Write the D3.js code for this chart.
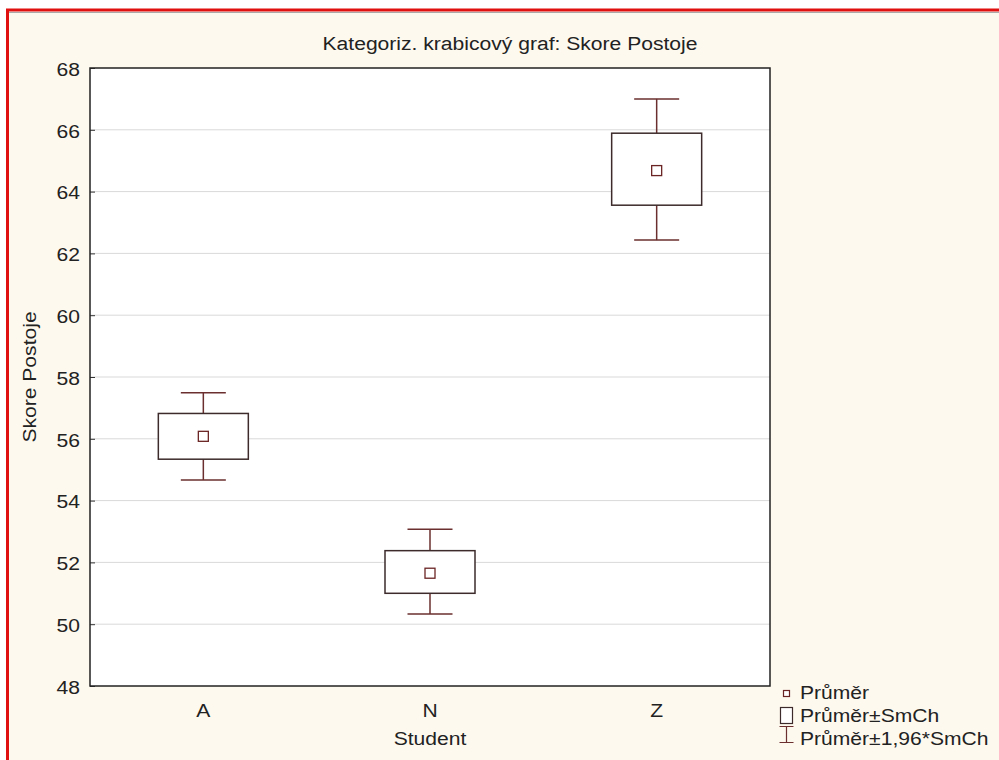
<!DOCTYPE html>
<html>
<head>
<meta charset="utf-8">
<script src="https://cdn.jsdelivr.net/npm/d3@7"></script>
<style>
  body { margin: 0; background: #ffffff; }
  text { font-family: "Liberation Sans", Arial, sans-serif; fill: #222; }
</style>
</head>
<body>
<div class="chart"></div>
<script>
// data
var categories = ["A", "N", "Z"];
var means      = [56.08, 51.65, 64.68];
var boxLow     = [55.34, 51.0, 63.56];
var boxHigh    = [56.82, 52.38, 65.89];
var whiskLow   = [54.67, 50.33, 62.43];
var whiskHigh  = [57.49, 53.07, 67.0];
var yTicks     = [48, 50, 52, 54, 56, 58, 60, 62, 64, 66, 68];
var legendLabels = ["Průměr", "Průměr±SmCh", "Průměr±1,96*SmCh"];

var svgWidth = 999, svgHeight = 760;
var margin = { top: 68, right: 229, bottom: 74, left: 90 };
var width = svgWidth - margin.left - margin.right;
var height = svgHeight - margin.top - margin.bottom;
var fontSize = "19px", stretchX = 1.11;

// the reference text is a bit wider than Arial, so widen it a little
function stretch(sel) {
  sel.each(function() {
    var t = d3.select(this);
    var tx = +t.attr("x") || 0, ty = +t.attr("y") || 0;
    var tr = t.attr("transform") || "";
    t.attr("x", 0).attr("y", 0)
      .attr("transform", `${tr} translate(${tx},${ty}) scale(${stretchX},1)`);
  });
}

var svg = d3.select(".chart")
  .append("svg")
  .attr("width", svgWidth)
  .attr("height", svgHeight);

// window frame
svg.append("rect").attr("x", 6).attr("y", 9).attr("width", svgWidth).attr("height", svgHeight)
  .attr("fill", "#fdf9ef");
svg.append("line").attr("x1", 6).attr("x2", svgWidth).attr("y1", 12.5).attr("y2", 12.5)
  .attr("stroke", "#aaa").attr("stroke-width", 1);
svg.append("line").attr("x1", 6).attr("x2", svgWidth).attr("y1", 10).attr("y2", 10)
  .attr("stroke", "#e01010").attr("stroke-width", 3);
svg.append("line").attr("x1", 7.5).attr("x2", 7.5).attr("y1", 9).attr("y2", svgHeight)
  .attr("stroke", "#e01010").attr("stroke-width", 3);

var chartGroup = svg.append("g")
  .attr("transform", `translate(${margin.left}, ${margin.top})`);

var x = d3.scaleBand().domain(categories).range([0, width]).padding(0);
var y = d3.scaleLinear().domain([48, 68]).range([height, 0]);

chartGroup.append("rect")
  .attr("width", width).attr("height", height)
  .attr("fill", "#fff");

// grid lines
chartGroup.selectAll(".grid")
  .data(yTicks.slice(1, -1))
  .enter()
  .append("line")
  .attr("x1", 0).attr("x2", width)
  .attr("y1", d => y(d)).attr("y2", d => y(d))
  .attr("stroke", "#d9d9d9").attr("stroke-width", 1);

// y axis
var leftAxis = d3.axisLeft(y).tickValues(yTicks).tickSize(-5).tickPadding(10);
var yAxis = chartGroup.append("g").call(leftAxis);
yAxis.select(".domain").remove();
yAxis.selectAll("line").attr("stroke", "#333");
yAxis.selectAll("text").attr("font-size", fontSize).attr("fill", "#222")
  .attr("dy", "0.38em")
  .style("font-family", "Liberation Sans, Arial, sans-serif")
  .call(stretch);

// x axis
var bottomAxis = d3.axisBottom(x).tickSize(0).tickPadding(31);
var xAxis = chartGroup.append("g").attr("transform", `translate(0, ${height})`).call(bottomAxis);
xAxis.select(".domain").remove();
xAxis.selectAll("text").attr("font-size", fontSize).attr("fill", "#222")
  .attr("dy", "0")
  .style("font-family", "Liberation Sans, Arial, sans-serif")
  .call(stretch);

var idx = d3.range(categories.length);
var boxW = 90, capW = 45;

// whiskers
var whisk = chartGroup.selectAll(".whisk").data(idx).enter().append("g")
  .attr("stroke", "#6b2f2f").attr("stroke-width", 1.5);
whisk.append("line")
  .attr("x1", i => x(categories[i]) + x.bandwidth() / 2)
  .attr("x2", i => x(categories[i]) + x.bandwidth() / 2)
  .attr("y1", i => y(whiskLow[i])).attr("y2", i => y(whiskHigh[i]));
whisk.append("line")
  .attr("x1", i => x(categories[i]) + x.bandwidth() / 2 - capW / 2)
  .attr("x2", i => x(categories[i]) + x.bandwidth() / 2 + capW / 2)
  .attr("y1", i => y(whiskHigh[i])).attr("y2", i => y(whiskHigh[i]));
whisk.append("line")
  .attr("x1", i => x(categories[i]) + x.bandwidth() / 2 - capW / 2)
  .attr("x2", i => x(categories[i]) + x.bandwidth() / 2 + capW / 2)
  .attr("y1", i => y(whiskLow[i])).attr("y2", i => y(whiskLow[i]));

// boxes
chartGroup.selectAll(".box").data(idx).enter().append("rect")
  .attr("x", i => x(categories[i]) + x.bandwidth() / 2 - boxW / 2)
  .attr("y", i => y(boxHigh[i]))
  .attr("width", boxW)
  .attr("height", i => y(boxLow[i]) - y(boxHigh[i]))
  .attr("fill", "#fff").attr("stroke", "#3d2b2b").attr("stroke-width", 1.5);

// mean markers
chartGroup.selectAll(".mean").data(idx).enter().append("rect")
  .attr("x", i => x(categories[i]) + x.bandwidth() / 2 - 5)
  .attr("y", i => y(means[i]) - 5)
  .attr("width", 10).attr("height", 10)
  .attr("fill", "#fff").attr("stroke", "#6b2424").attr("stroke-width", 1.3);

// frame of the plot
chartGroup.append("rect")
  .attr("width", width).attr("height", height)
  .attr("fill", "none").attr("stroke", "#222").attr("stroke-width", 1.5);

// title & labels
svg.append("text")
  .attr("x", 510).attr("y", 50)
  .attr("text-anchor", "middle").attr("font-size", fontSize)
  .text("Kategoriz. krabicový graf: Skore Postoje")
  .call(stretch);

svg.append("text")
  .attr("x", margin.left + width / 2).attr("y", 745)
  .attr("text-anchor", "middle").attr("font-size", fontSize)
  .text("Student")
  .call(stretch);

svg.append("text")
  .attr("transform", "rotate(-90)")
  .attr("x", -(margin.top + height / 2)).attr("y", 36)
  .attr("text-anchor", "middle").attr("font-size", fontSize)
  .text("Skore Postoje")
  .call(stretch);

// legend
var legend = svg.append("g").attr("transform", "translate(779, 0)");
legend.append("rect").attr("x", 4.5).attr("y", 690.5).attr("width", 6).attr("height", 6)
  .attr("fill", "#fff").attr("stroke", "#6b2424").attr("stroke-width", 1.2);
legend.append("rect").attr("x", 1.5).attr("y", 707.5).attr("width", 12).attr("height", 16)
  .attr("fill", "#fff").attr("stroke", "#3d2b2b").attr("stroke-width", 1.2);
legend.append("path").attr("d", "M0.5,726.5H14.5M7.5,726.5V742.5M0.5,742.5H14.5")
  .attr("fill", "none").attr("stroke", "#6b2f2f").attr("stroke-width", 1.2);
legend.selectAll(".leg").data(legendLabels).enter().append("text")
  .attr("x", 21).attr("y", (d, i) => 699 + i * 23)
  .attr("font-size", fontSize)
  .text(d => d)
  .call(stretch);
</script>
</body>
</html>
